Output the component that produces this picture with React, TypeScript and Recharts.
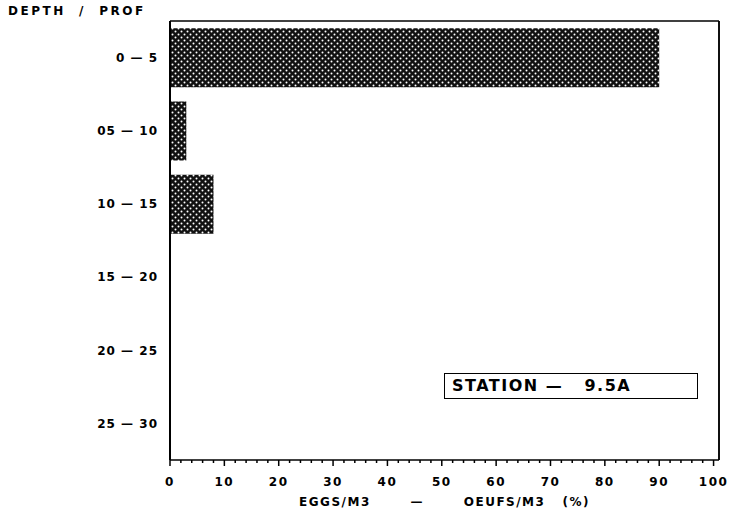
import { BarChart, Bar, XAxis, YAxis, ReferenceLine } from 'recharts'

const depths = ['0 —  5', '05 — 10', '10 — 15', '15 — 20', '20 — 25', '25 — 30']
const eggsPct = [90, 3, 8, 0, 0, 0]
const majorTicks = [0, 10, 20, 30, 40, 50, 60, 70, 80, 90, 100]
const allTicks = majorTicks.flatMap((t) => (t < 100 ? [t, t + 2, t + 4, t + 6, t + 8] : [t]))

const data = depths.map((d, i) => ({ depth: d, value: eggsPct[i] }))

const font = '"DejaVu Sans", Arial, sans-serif'
const sp = (n: number) => '\u00a0'.repeat(n)

const XTick = (props: any) => {
  const { x, y, payload } = props
  const major = majorTicks.includes(payload.value)
  return (
    <g>
      <line x1={x} x2={x} y1={y - 8} y2={y - 8 + (major ? 6 : 3)} stroke="#000" strokeWidth={1.5} />
      {major && (
        <text x={x} y={y + 18} textAnchor="middle" fontFamily={font} fontWeight="bold" fontSize={12} letterSpacing={1.5} fill="#000">
          {payload.value}
        </text>
      )}
    </g>
  )
}

export default function App() {
  return (
    <div style={{ position: 'absolute', left: 0, top: 0, width: 731, height: 516, background: '#fff' }}>
      <div
        style={{
          position: 'absolute',
          left: 8,
          top: 4,
          fontFamily: font,
          fontWeight: 'bold',
          fontSize: 12,
          letterSpacing: 2.5,
          whiteSpace: 'pre',
        }}
      >
        {'DEPTH  /  PROF'}
      </div>
      <BarChart
        width={731}
        height={516}
        data={data}
        layout="vertical"
        margin={{ top: 20, right: 11, bottom: 0, left: 0 }}
        barCategoryGap="10%"
      >
        <defs>
          <pattern id="dots" width="6" height="6" patternUnits="userSpaceOnUse">
            <rect width="6" height="6" fill="#111" />
            <circle cx="1.5" cy="1.5" r="1" fill="#fff" />
            <circle cx="4.5" cy="4.5" r="1" fill="#fff" />
          </pattern>
        </defs>
        <XAxis
          type="number"
          domain={[0, 101]}
          ticks={allTicks}
          interval={0}
          height={56}
          tickLine={false}
          tick={<XTick />}
          axisLine={{ stroke: '#000', strokeWidth: 1.5 }}
          label={{
            value: `EGGS/M3${sp(7)}—${sp(7)}OEUFS/M3${sp(3)}(%)`,
            position: 'insideBottom',
            offset: 10,
            style: { fontFamily: font, fontWeight: 'bold', fontSize: 12, letterSpacing: 1.5, fill: '#000' },
          }}
        />
        <XAxis xAxisId="top" orientation="top" type="number" domain={[0, 101]} height={1} tick={false} tickLine={false} axisLine={{ stroke: '#000', strokeWidth: 1.5 }} />
        <YAxis
          type="category"
          dataKey="depth"
          width={170}
          tickLine={false}
          tickMargin={6}
          axisLine={{ stroke: '#000', strokeWidth: 2 }}
          tick={{ fontFamily: font, fontWeight: 'bold', fontSize: 12, letterSpacing: 1, fill: '#000' }}
        />
        <YAxis yAxisId="right" orientation="right" type="category" dataKey="depth" width={1} tick={false} tickLine={false} axisLine={{ stroke: '#000', strokeWidth: 1.5 }} />
        <ReferenceLine x={101} stroke="#000" strokeWidth={1.5} />
        <Bar dataKey="value" fill="url(#dots)" isAnimationActive={false} />
      </BarChart>
      <div
        style={{
          position: 'absolute',
          left: 444,
          top: 373,
          width: 254,
          height: 26,
          border: '1.5px solid #000',
          boxSizing: 'border-box',
          fontFamily: font,
          fontWeight: 'bold',
          fontSize: 16,
          letterSpacing: 1.5,
          lineHeight: '23px',
          paddingLeft: 7,
          whiteSpace: 'pre',
        }}
      >
        {'STATION —   9.5A'}
      </div>
    </div>
  )
}
